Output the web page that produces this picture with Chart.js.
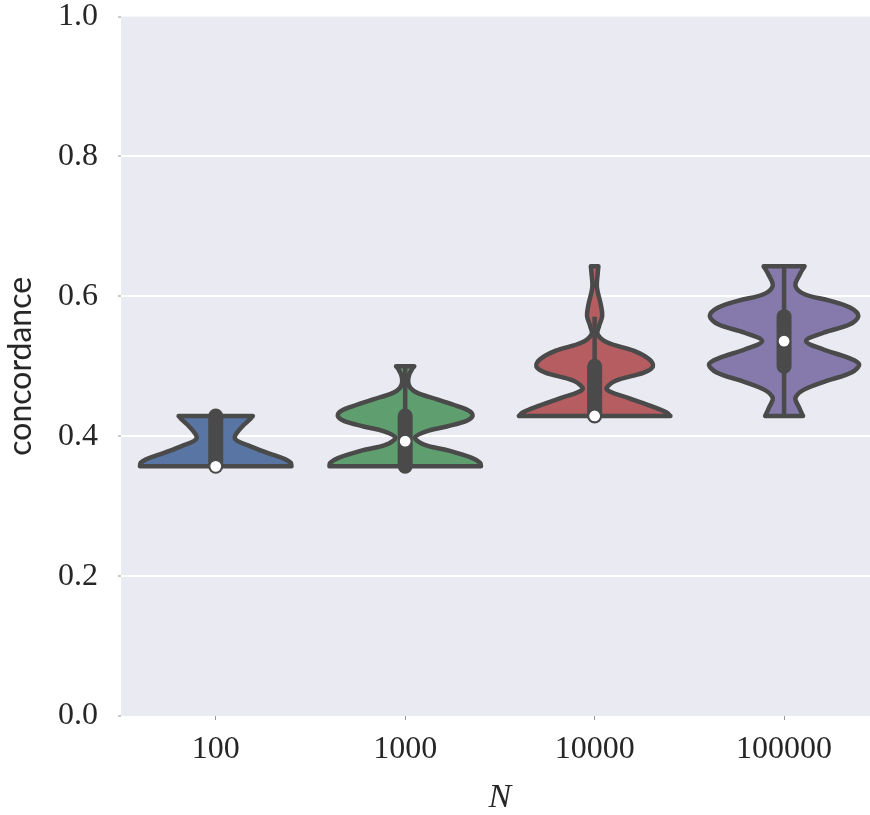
<!DOCTYPE html>
<html>
<head>
<meta charset="utf-8">
<script src="https://cdn.jsdelivr.net/npm/chart.js@4.4.1/dist/chart.umd.min.js"></script>
<style>
  html, body { margin: 0; padding: 0; background: #fff; overflow: hidden; }
  #wrap { width: 870px; height: 815px; overflow: hidden; }
  #chart { display: block; margin-top: -21px; }
</style>
</head>
<body>
<div id="wrap"><canvas id="chart" width="886" height="836"></canvas></div>
<script>
const categories = ["100", "1000", "10000", "100000"];
const fillColors = ["#5875a3", "#5f9e6e", "#b55d60", "#857aab"];
const yTicks = [0, 0.2, 0.4, 0.6, 0.8, 1.0];

// violin outlines: heights and relative half widths (1 = widest)
const y100 = [0.357, 0.362, 0.367, 0.376, 0.386, 0.393, 0.398, 0.405, 0.415, 0.424, 0.429];
const w100 = [1.0, 0.99, 0.92, 0.69, 0.45, 0.29, 0.25, 0.28, 0.36, 0.45, 0.49];

const y1000 = [0.357, 0.362, 0.369, 0.379, 0.388, 0.398, 0.407, 0.414, 0.422, 0.429,
               0.436, 0.443, 0.453, 0.462, 0.469, 0.477, 0.487, 0.496, 0.5];
const w1000 = [1.0, 0.99, 0.88, 0.59, 0.25, 0.13, 0.28, 0.55, 0.81, 0.89,
               0.85, 0.69, 0.41, 0.16, 0.07, 0.04, 0.05, 0.09, 0.12];

const y10000 = [0.429, 0.434, 0.443, 0.455, 0.467, 0.479, 0.491, 0.5, 0.51, 0.522,
                0.534, 0.546, 0.558, 0.572, 0.589, 0.613, 0.632, 0.643];
const w10000 = [1.0, 0.95, 0.75, 0.44, 0.16, 0.27, 0.65, 0.77, 0.72, 0.52,
                0.17, 0.04, 0.06, 0.1, 0.08, 0.03, 0.04, 0.05];

const y100000 = [0.429, 0.443, 0.455, 0.467, 0.479, 0.491, 0.503, 0.512, 0.524, 0.536,
                 0.548, 0.56, 0.572, 0.584, 0.594, 0.603, 0.615, 0.632, 0.643];
const w100000 = [0.25, 0.19, 0.15, 0.27, 0.56, 0.89, 0.99, 0.85, 0.52, 0.29,
                 0.52, 0.87, 0.98, 0.87, 0.6, 0.27, 0.15, 0.21, 0.27];

// inner box
const whiskerLow = [0.357, 0.357, 0.429, 0.429];
const whiskerHigh = [0.429, 0.5, 0.571, 0.643];
const boxLow = [0.357, 0.357, 0.429, 0.5];
const boxHigh = [0.429, 0.429, 0.5, 0.571];
const medians = [0.357, 0.393, 0.429, 0.536];

const profiles = [[y100, w100], [y1000, w1000], [y10000, w10000], [y100000, w100000]];
const outline = "#4a4a4a";
const HALF = 0.4;

function violinOutline(center, ys, ws) {
  const n = ys.length;
  const right = ys.map((y, k) => ({ x: center + ws[k] * HALF, y: y }));
  const left = ys.map((y, k) => ({ x: center - ws[k] * HALF, y: y })).reverse();
  // corners doubled so the curve keeps them sharp
  const pts = [{ x: center, y: ys[0] }];
  pts.push(right[0], ...right, right[n - 1]);
  pts.push({ x: center, y: ys[n - 1] });
  pts.push(left[0], ...left, left[n - 1]);
  pts.push({ x: center, y: ys[0] });
  return pts;
}

const datasets = [];
profiles.forEach(([ys, ws], i) => {
  datasets.push({
    data: violinOutline(i, ys, ws),
    fill: "shape",
    backgroundColor: fillColors[i],
    borderColor: outline,
    borderWidth: 4.5,
    borderJoinStyle: "round",
    tension: 0.35,
    pointRadius: 0,
    order: 4,
  });
  datasets.push({
    data: [{ x: i, y: whiskerLow[i] }, { x: i, y: whiskerHigh[i] }],
    borderColor: outline,
    borderWidth: 4.5,
    pointRadius: 0,
    order: 3,
  });
  datasets.push({
    data: [{ x: i, y: boxLow[i] }, { x: i, y: boxHigh[i] }],
    borderColor: outline,
    borderWidth: 15,
    borderCapStyle: "round",
    pointRadius: 0,
    order: 2,
  });
  datasets.push({
    data: [{ x: i, y: medians[i] }],
    showLine: false,
    pointRadius: 6,
    pointBackgroundColor: "#ffffff",
    pointBorderColor: outline,
    pointBorderWidth: 1.2,
    order: 1,
  });
});

const plotBackground = {
  id: "plotBackground",
  beforeDraw(chart) {
    const { ctx, chartArea: a } = chart;
    ctx.save();
    ctx.fillStyle = "#eaeaf2";
    ctx.fillRect(a.left, a.top, a.right - a.left, a.bottom - a.top);
    ctx.restore();
  },
};

const tickFont = { family: "'Liberation Serif', 'DejaVu Serif', serif", size: 32, lineHeight: 1.1 };

new Chart(document.getElementById("chart"), {
  type: "line",
  data: { datasets: datasets },
  options: {
    responsive: false,
    animation: false,
    events: [],
    layout: { padding: 0 },
    plugins: { legend: { display: false }, tooltip: { enabled: false } },
    scales: {
      x: {
        type: "linear",
        min: -0.5,
        max: 3.5,
        afterBuildTicks: (s) => { s.ticks = categories.map((c, i) => ({ value: i })); },
        afterFit: (s) => { s.height = 99; },
        ticks: {
          callback: (v) => categories[v],
          font: tickFont,
          color: "#262626",
          padding: 12,
          maxRotation: 0,
          autoSkip: false,
        },
        grid: { drawOnChartArea: false, tickLength: 4, tickColor: "#999", tickWidth: 1 },
        border: { display: false },
        title: {
          display: true,
          text: "N",
          font: { family: "'Liberation Serif', serif", style: "italic", size: 34, lineHeight: 1.0 },
          color: "#262626",
          padding: { top: 0, bottom: 0 },
        },
      },
      y: {
        min: 0,
        max: 1,
        afterBuildTicks: (s) => { s.ticks = yTicks.map((v) => ({ value: v })); },
        afterFit: (s) => { s.width = 121; },
        ticks: {
          callback: (v) => v.toFixed(1),
          font: tickFont,
          color: "#262626",
          padding: 20,
        },
        grid: {
          color: (c) => (c.tick && (c.tick.value === 0 || c.tick.value === 1) ? "rgba(0,0,0,0)" : "#ffffff"),
          lineWidth: 2,
          tickLength: 3,
          tickColor: "#999",
          tickWidth: 1,
        },
        border: { display: false },
        title: {
          display: true,
          text: "concordance",
          font: { family: "Lato, 'Open Sans', sans-serif", size: 32 },
          color: "#262626",
          padding: { top: 1, bottom: 0 },
        },
      },
    },
  },
  plugins: [plotBackground],
});
</script>
</body>
</html>
